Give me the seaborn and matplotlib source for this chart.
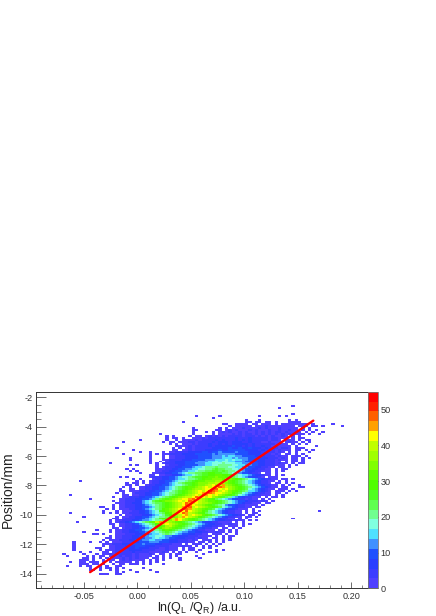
import numpy as np
import pandas as pd
import matplotlib
matplotlib.use('Agg')
import matplotlib.pyplot as plt
from matplotlib.colors import ListedColormap
from matplotlib.ticker import MultipleLocator, FormatStrFormatter
import seaborn as sns

# palette of the z scale, bottom to top
palette = ['#5040ff', '#3c3cff', '#2a3eff', '#2050ff', '#4090ff', '#50e0ff', '#80ffe0',
           '#70ff90', '#60ff50', '#50ff20', '#50ff00', '#60ff00', '#80ff00', '#a0ff00',
           '#c0ff00', '#ffff00', '#ffa000', '#ff6000', '#ff2000', '#ff0000']
z_max = 55
n_bins = 100
x_range = [-0.0952, 0.2154]
y_range = [-15.0, -1.62]

# first row, counted down from the top of the frame
first_row = 7
# first filled column in each row
row_start = [77, 73, 0, 0, 77, 48, 53, 63, 44, 56, 58, 47, 47, 47, 37, 36, 39, 31, 26, 40, 42, 24, 29, 31, 26,
             34, 28, 28, 34, 22, 28, 36, 27, 28, 31, 34, 25, 29, 13, 27, 27, 26, 25, 25, 24, 10, 23, 16, 23,
             24, 23, 19, 21, 20, 10, 25, 14, 23, 22, 12, 22, 23, 23, 18, 14, 17, 22, 21, 20, 11, 11, 11, 11,
             11, 13, 8, 9, 14, 13, 10, 13, 9, 16, 16, 24, 19]
# one character per bin: . empty, 1-9 and a-k are the colour levels of the z scale
row_cells = [
    "1", "1", "", "", "1",
    "1......1...........1.....1.1",
    "1",
    "1...1........1.1",
    "1..................11.11.11.1...1111",
    "11..1111.11.111.1.11111111.1.....1",
    "1.11111.111211111111.111.11.1.....1",
    "1.......1.1.11121111212111211111.1.1",
    "11.....11.1212111212111211211211.1.1.1",
    "1...1.1.1212112121121212122121121.1.1..1",
    "1.........1.....1.11112121221212121212121111.1..1",
    "...1.1....1.11.1212121222212221212121121.1.1",
    "1.11.1..11121222222223222322222122111.1.11",
    "1.......1..1.111121222232322232323222221221.111.1.11",
    "1...........1.11.1112212222323332333223222112111.1211.1.1",
    "1.1.11121222322323233333232222221211.1.1.1",
    "11112122223233333433232322322121111.1.....1",
    "1................1.1.12122222333334334334333232221221.111",
    "1...........11.112122233334334444433332322212111.11.1.1",
    "1..1...1.11222233334434454444544433332222121.1.1...1",
    "1.......1.1.112222333344444545555544443333222121.11.1.1",
    "1...1.112223333444455565665544443332221211.111.1",
    "1.....1...1.112223333444455566656555444333222121.11.1.1",
    "1.....1...11222233344445556667676655444332221211.11.1",
    "1..1.12233344445556676776655544433322211.1.11.1",
    "1...........1.1.12223334445556677787776655544332221211.1.11",
    "1.1.....1..122233444455667788887766554433222111.1.1",
    "1.1222334445667888988877665544332211.11.1",
    "1.1......111223344556677889a9988776544332211.1.11",
    "1.1.....11223344556678899aa9a98876543322111.1.1",
    "1...112233445678899aabbaa998765443221.11.1",
    "11.1122334566789aabbccbba987665433211.1.1",
    "1.1......12223344567789aabbccdccba9876543321.111",
    "1.1...12233445667889abccdddcedcba98765432211.11.1",
    "1................1.1.1223344567789abccdddeedecba98765432211.1.1",
    "1.11.1.12233456789aabcdddeeffedcba9876543221.11.1.1",
    "11.1..1223344567789abcddefgefhedcba98765432211.1.1..1",
    "1.1..1122334456789abccdefgfggihfedcba9876543211.11...11",
    "1..11.1122334456789abcdeefggiigfgedcba976543211.111.1",
    "11.111222334456789abcdefgfgjihfgfdcba986654321.111.1.1",
    "1.1..12223344567889abcdefghgihggfedba9765432211.11.1",
    "1...............11.1122334456789abcdefgfihgfgedcba97654322111.1.1",
    "1..11222334456789abcdeffgihgfgedca98654322111.1.11.1",
    "1........1122233445689abcdefgghigfedcb9876543221211.1.1",
    "1.11222335679abcddefgfgihgfedccba98765443222121.1",
    "11122333567899abcdefgihfgfeedcba987654322111.11",
    "1.1122233456789abcdefgihgfedcba9875443221111.1",
    "11..1.1122233445689abcdefhgifgfedcba9765432211.11",
    "1.1.1112233456789bcdefgiihfedcba97654332111.1",
    "1...1.11122334567abcdefhgigfedba8765432211.1.1.1.................1",
    "1.........1.1.1.1122233456789bcefgihfedcb98765432211.1.11",
    "1.112223345678abdefghfgfecba9876543321.11.1",
    "1.........1.11223344567889acdfhgfedba98765432211.11.1",
    "11.12223345678abcefhgfdcba98765432211.1.1.............1",
    "1.112223345567889bdfhgedcba98765433221211.1.1",
    "1.........1.1223456789acfhgfedcba98765433221111.1.1",
    "11.11223456789bdfgfedcba987654332211211.1.1",
    "1.11223345678abcefdcba987654332211.111.1",
    "11.1223344567abdedcba98765432211.11.1.1",
    "1...1.11223344567889bcba987654322111.11.1.1",
    "1.......1.112233344566789a98765544332211211.1.1",
    "11.1...1112223344566789876544332211.111.1..1",
    "1.11222334456677655443332221111.1.1.11",
    "11.1122233445567665443332221211.11.1.1",
    "1.111222334455665544333222121.111.1.1.1",
    "1....1..1.1.1112223344455544433322211.11.1.1.1",
    "1........111222333444544433222111.1.111.1.1.1",
    "1........1.1122233344433322221111211.1.1.1.1",
    "1......11..112223334333222112111.1.11..1.1",
    "1.......1.1112222333322221112111.1.11.1....1.1",
    "1..1...11.12222232222111121.1.1.1..1...1.1",
    "1.....1...1.1121222221211121.11.1.11......1",
    "1.....1.1.11.1212122121111.1.1.1.1.....1",
    "11.1.1.1.11121212111.11.1.1..1.....1",
    "111.1..1.11.12121111.1.1.1....1",
    "1..11.111.1.1.11111.1.1.1.1",
    "111.11.1..1.11.111.1.1...1",
    "1...1.11..1.1..11",
    "1..1.11.1.1.....1",
    "11.1..1.1...1.....1",
    "1.1...1.....1",
    "111..11",
]
# fitted line
fit_x = [-0.0443, 0.1645]
fit_y = [-13.9, -3.59]
cbar_ticks = [0, 10, 20, 30, 40, 50]

levels = '.123456789abcdefghijk'
x_edges = np.linspace(x_range[0], x_range[1], n_bins + 1)
y_edges = np.linspace(y_range[1], y_range[0], n_bins + 1)  # from the top down
x_mid = (x_edges[:-1] + x_edges[1:]) / 2
y_mid = (y_edges[:-1] + y_edges[1:]) / 2

rows = []
for i, cells in enumerate(row_cells):
    for j, ch in enumerate(cells):
        if ch != '.':
            rows.append({'x': x_mid[row_start[i] + j], 'y': y_mid[first_row + i],
                         'count': (levels.index(ch) - 0.5) * z_max / len(palette)})
df = pd.DataFrame(rows)

sns.set_style('white')
plt.rcParams['font.family'] = ['Liberation Sans', 'DejaVu Sans']
plt.rcParams['mathtext.default'] = 'regular'
plt.rcParams['axes.unicode_minus'] = False

W, H = 436, 616
fig = plt.figure(figsize=(W / 100, H / 100), dpi=100)
ax = fig.add_axes([35.7 / W, 1 - 588.3 / H, 332 / W, 196.6 / H])
cax = fig.add_axes([367.7 / W, 1 - 588.3 / H, 10.6 / W, 196.6 / H])

sns.histplot(data=df, x='x', y='y', weights='count', bins=[x_edges, y_edges[::-1]],
             cmap=ListedColormap(palette), vmin=0, vmax=z_max, cbar=True, cbar_ax=cax, ax=ax)
sns.lineplot(x=fit_x, y=fit_y, color='#ff0000', linewidth=1.7, ax=ax, errorbar=None)

ax.set_xlim(x_range)
ax.set_ylim(y_range)
ax.xaxis.set_major_locator(MultipleLocator(0.05))
ax.xaxis.set_minor_locator(MultipleLocator(0.01))
ax.xaxis.set_major_formatter(FormatStrFormatter('%.2f'))
ax.yaxis.set_major_locator(MultipleLocator(2))
ax.yaxis.set_minor_locator(MultipleLocator(0.5))
ax.tick_params(axis='x', which='major', direction='in', length=4.6, width=0.5, color='#333333',
               labelsize=6.6, labelcolor='#333333', pad=2.5, bottom=True)
ax.tick_params(axis='x', which='minor', direction='in', length=2.3, width=0.5, color='#555555', bottom=True)
ax.tick_params(axis='y', which='major', direction='in', length=7, width=0.5, color='#333333',
               labelsize=6.6, labelcolor='#333333', pad=2, left=True)
ax.tick_params(axis='y', which='minor', direction='in', length=3.5, width=0.5, color='#555555', left=True)
for s in ax.spines.values():
    s.set_visible(True)
    s.set_linewidth(0.7)
    s.set_color('#333333')
ax.set_xlabel('ln(Q$_{L}$ /Q$_{R}$) /a.u.', fontsize=9, color='#222222')
ax.set_ylabel('Position/mm', fontsize=10, color='#222222')
ax.xaxis.set_label_coords(0.495, -0.06)
ax.yaxis.set_label_coords(-0.064, 0.5)

cbar = ax.collections[0].colorbar
cbar.set_ticks(cbar_ticks)
cbar.minorticks_off()
cax.tick_params(axis='y', direction='in', length=7.5, width=0.7, color='#333333', labelsize=6.6,
                labelcolor='#333333', pad=1.5, right=True)
cbar.outline.set_edgecolor('#777777')
cbar.outline.set_linewidth(0.6)

fig.savefig('out.png', dpi=100)
